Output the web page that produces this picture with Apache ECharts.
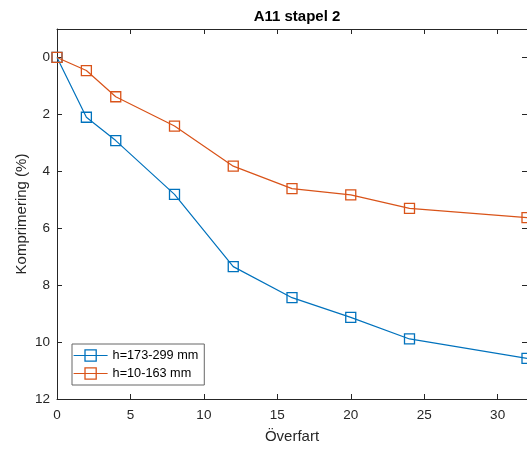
<!DOCTYPE html>
<html>
<head>
<meta charset="utf-8">
<script src="https://cdn.jsdelivr.net/npm/echarts@6/dist/echarts.min.js"></script>
<style>
  html, body { margin: 0; padding: 0; background: #fff; }
  #chart { width: 527px; height: 450px; }
</style>
</head>
<body>
<div id="chart"></div>
<script>
// Passes (Överfart) and compression (%) for the two layer heights
const passes = [0, 2, 4, 8, 12, 16, 20, 24, 32];
const upperLayer = [0, 2.10, 2.92, 4.81, 7.35, 8.44, 9.13, 9.89, 10.57];   // h=173-299 mm
const lowerLayer = [0, 0.46, 1.38, 2.41, 3.82, 4.61, 4.83, 5.30, 5.63];    // h=10-163 mm
const seriesNames = ['h=173-299 mm', 'h=10-163 mm'];
const xTicks = [0, 5, 10, 15, 20, 25, 30];
const yTicks = [0, 2, 4, 6, 8, 10, 12];

const FONT = '"Liberation Sans", Arial, Helvetica, sans-serif';
const INK = '#262626';
const BLUE = '#0072BD';
const ORANGE = '#D95319';

const pairs = (xs, ys) => xs.map((x, i) => [x, ys[i]]);

const baseX = {
  type: 'value', min: 0, max: 32,
  axisLine: { show: true, onZero: false, lineStyle: { color: INK, width: 1 } },
  splitLine: { show: false }
};
const baseY = {
  type: 'value', min: -1, max: 12, inverse: true,
  axisLine: { show: true, onZero: false, lineStyle: { color: INK, width: 1 } },
  splitLine: { show: false }
};

const chart = echarts.init(document.getElementById('chart'), null, { renderer: 'canvas' });
chart.setOption({
  animation: false,
  backgroundColor: '#fff',
  title: {
    text: 'A11 stapel 2',
    left: 292, top: 4, textAlign: 'center',
    textStyle: { fontFamily: FONT, fontSize: 15, fontWeight: 'bold', color: '#000' }
  },
  grid: { left: 57, right: 0, top: 29, bottom: 51, containLabel: false },
  xAxis: [
    Object.assign({}, baseX, {
      position: 'bottom',
      name: 'Överfart', nameLocation: 'middle', nameGap: 30, nameMoveOverlap: false,
      nameTextStyle: { fontFamily: FONT, fontSize: 15, color: INK },
      axisTick: { show: true, inside: true, length: 5, customValues: xTicks, lineStyle: { color: INK } },
      axisLabel: { show: true, margin: 9, customValues: xTicks, fontFamily: FONT, fontSize: 13.5, color: INK }
    }),
    Object.assign({}, baseX, {
      position: 'top',
      axisTick: { show: true, inside: true, length: 5, customValues: xTicks, lineStyle: { color: INK } },
      axisLabel: { show: false }
    })
  ],
  yAxis: [
    Object.assign({}, baseY, {
      position: 'left',
      name: 'Komprimering (%)', nameLocation: 'middle', nameGap: 28, nameRotate: 90, nameMoveOverlap: false,
      nameTextStyle: { fontFamily: FONT, fontSize: 15, color: INK },
      axisTick: { show: true, inside: true, length: 5, customValues: yTicks, lineStyle: { color: INK } },
      axisLabel: { show: true, margin: 7, customValues: yTicks, fontFamily: FONT, fontSize: 13.5, color: INK }
    }),
    Object.assign({}, baseY, {
      position: 'right',
      axisTick: { show: true, inside: true, length: 5, customValues: yTicks, lineStyle: { color: INK } },
      axisLabel: { show: false }
    })
  ],
  legend: {
    orient: 'vertical',
    left: 72, top: 344,
    backgroundColor: '#fff',
    borderColor: '#666', borderWidth: 1,
    padding: [5, 6, 5, 1],
    itemWidth: 34, itemHeight: 14, itemGap: 5,
    lineStyle: { width: 1.2 },
    itemStyle: { borderWidth: 1.3 },
    textStyle: { fontFamily: FONT, fontSize: 12.7, color: '#000' },
    data: seriesNames
  },
  series: [
    {
      name: seriesNames[0], type: 'line',
      xAxisIndex: 0, yAxisIndex: 0,
      data: pairs(passes, upperLayer),
      symbol: 'rect', symbolSize: 10,
      lineStyle: { color: BLUE, width: 1.2 },
      itemStyle: { color: 'rgba(0,0,0,0)', borderColor: BLUE, borderWidth: 1.3 },
      z: 3
    },
    {
      name: seriesNames[1], type: 'line',
      xAxisIndex: 0, yAxisIndex: 0,
      data: pairs(passes, lowerLayer),
      symbol: 'rect', symbolSize: 10,
      lineStyle: { color: ORANGE, width: 1.2 },
      itemStyle: { color: 'rgba(0,0,0,0)', borderColor: ORANGE, borderWidth: 1.3 },
      z: 4
    }
  ]
});
</script>
</body>
</html>
